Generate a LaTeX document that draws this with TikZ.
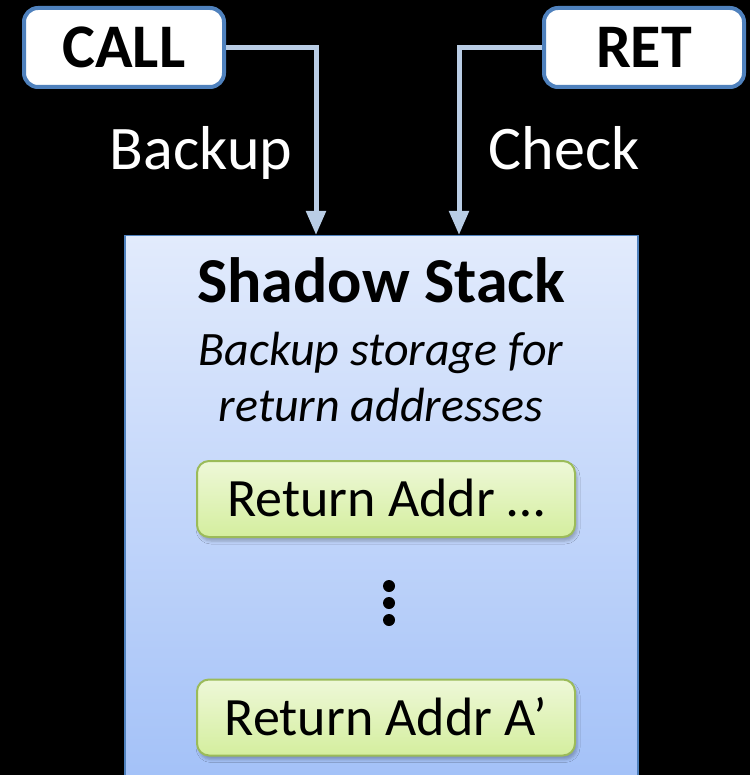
\documentclass[tikz,border=0pt]{standalone}
\usepackage{fontspec}
\setmainfont{Carlito}
\usetikzlibrary{arrows.meta,shadows.blur}
\definecolor{bord}{HTML}{4F81BD}
\definecolor{arr}{HTML}{B9CDE5}
\definecolor{gbord}{HTML}{9BBB59}
\definecolor{stop}{HTML}{E2EBFC}
\definecolor{sbot}{HTML}{A3C1F8}
\definecolor{gtop}{HTML}{EEF8D8}
\definecolor{gbot}{HTML}{D4EE9E}
\tikzset{
  instr/.style={draw=bord, line width=4pt, fill=white, rounded corners=14pt,
    minimum width=200pt, minimum height=79pt, inner sep=0pt,
    font=\fontsize{62}{70}\selectfont\bfseries, text height=40pt, text depth=0pt},
  conn/.style={draw=arr, line width=5pt, -{Triangle[width=19pt,length=24pt]}},
  lbl/.style={text=white, font=\fontsize{62}{70}\selectfont, anchor=base, inner sep=0pt},
  stackbox/.style={draw=bord, line width=1.5pt, top color=stop, bottom color=sbot,
    minimum width=513pt, minimum height=548pt, anchor=north west, inner sep=0pt},
  addr/.style={draw=gbord, line width=2pt, top color=gtop, bottom color=gbot,
    rounded corners=12pt, minimum width=378pt, minimum height=76pt, inner sep=0pt,
    blur shadow={shadow xshift=2pt, shadow yshift=-4pt, shadow blur radius=3pt, shadow opacity=25},
    font=\fontsize{54}{62}\selectfont, text height=35pt, text depth=0pt},
  title/.style={font=\fontsize{64}{72}\selectfont\bfseries, anchor=base, inner sep=0pt},
  sub/.style={font=\fontsize{48}{56}\selectfont\itshape, anchor=base, inner sep=0pt},
  dotc/.style={fill=black}
}
\begin{document}
\begin{tikzpicture}[x=1pt,y=-1pt]
\fill[black] (0,0) rectangle (750,775);
\useasboundingbox (0,0) rectangle (750,775);
\clip (0,0) rectangle (750,775);
\node[stackbox] (ss) at (124,235) {};
\node[instr] (call) at (124,47.5) {CALL};
\node[instr] (ret) at (644,47.5) {RET};
\coordinate (t1) at (316,235);
\coordinate (t2) at (459,235);
\draw[conn] (call.east) -| (t1);
\draw[conn] (ret.west) -| (t2);
\node[lbl] (lb1) at (201,170) {Backup};
\node[lbl] (lb2) at (564,170) {Check};
\node[title] (tt) at (381,302) {Shadow Stack};
\node[sub] (s1) at (381,365) {Backup storage for};
\node[sub] (s2) at (381,421) {return addresses};
\node[addr] (r1) at (386,499) {Return Addr …};
\node[addr] (r2) at (386,717.5) {Return Addr A’};
\fill[dotc] (389,586) circle (6pt);
\fill[dotc] (389,603) circle (6pt);
\fill[dotc] (389,620) circle (6pt);
\end{tikzpicture}
\end{document}
